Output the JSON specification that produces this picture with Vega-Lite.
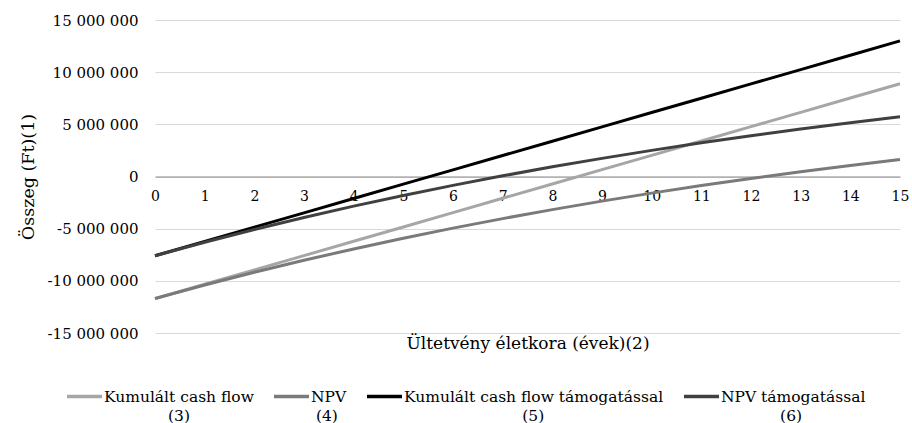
{
  "$schema": "https://vega.github.io/schema/vega-lite/v6.json",
  "width": 745,
  "height": 313,
  "autosize": "none",
  "padding": {"left": 155, "top": 20, "right": 12, "bottom": 90},
  "background": "white",
  "config": {
    "view": {"stroke": null},
    "font": "DejaVu Serif",
    "locale": {
      "number": {"decimal": ",", "thousands": " ", "grouping": [3], "currency": ["", " Ft"], "minus": "-"}
    }
  },
  "data": {
    "values": [
      {"ev": 0, "sorozat": "Kumulált cash flow", "osszeg": -11700000},
      {"ev": 1, "sorozat": "Kumulált cash flow", "osszeg": -10327000},
      {"ev": 2, "sorozat": "Kumulált cash flow", "osszeg": -8954000},
      {"ev": 3, "sorozat": "Kumulált cash flow", "osszeg": -7581000},
      {"ev": 4, "sorozat": "Kumulált cash flow", "osszeg": -6208000},
      {"ev": 5, "sorozat": "Kumulált cash flow", "osszeg": -4835000},
      {"ev": 6, "sorozat": "Kumulált cash flow", "osszeg": -3462000},
      {"ev": 7, "sorozat": "Kumulált cash flow", "osszeg": -2089000},
      {"ev": 8, "sorozat": "Kumulált cash flow", "osszeg": -716000},
      {"ev": 9, "sorozat": "Kumulált cash flow", "osszeg": 657000},
      {"ev": 10, "sorozat": "Kumulált cash flow", "osszeg": 2030000},
      {"ev": 11, "sorozat": "Kumulált cash flow", "osszeg": 3403000},
      {"ev": 12, "sorozat": "Kumulált cash flow", "osszeg": 4776000},
      {"ev": 13, "sorozat": "Kumulált cash flow", "osszeg": 6149000},
      {"ev": 14, "sorozat": "Kumulált cash flow", "osszeg": 7522000},
      {"ev": 15, "sorozat": "Kumulált cash flow", "osszeg": 8895000},
      {"ev": 0, "sorozat": "NPV", "osszeg": -11700000},
      {"ev": 1, "sorozat": "NPV", "osszeg": -10404700},
      {"ev": 2, "sorozat": "NPV", "osszeg": -9182700},
      {"ev": 3, "sorozat": "NPV", "osszeg": -8030000},
      {"ev": 4, "sorozat": "NPV", "osszeg": -6942400},
      {"ev": 5, "sorozat": "NPV", "osszeg": -5916400},
      {"ev": 6, "sorozat": "NPV", "osszeg": -4948500},
      {"ev": 7, "sorozat": "NPV", "osszeg": -4035400},
      {"ev": 8, "sorozat": "NPV", "osszeg": -3173900},
      {"ev": 9, "sorozat": "NPV", "osszeg": -2361300},
      {"ev": 10, "sorozat": "NPV", "osszeg": -1594600},
      {"ev": 11, "sorozat": "NPV", "osszeg": -871300},
      {"ev": 12, "sorozat": "NPV", "osszeg": -189000},
      {"ev": 13, "sorozat": "NPV", "osszeg": 454800},
      {"ev": 14, "sorozat": "NPV", "osszeg": 1062000},
      {"ev": 15, "sorozat": "NPV", "osszeg": 1634900},
      {"ev": 0, "sorozat": "Kumulált cash flow támogatással", "osszeg": -7600000},
      {"ev": 1, "sorozat": "Kumulált cash flow támogatással", "osszeg": -6227000},
      {"ev": 2, "sorozat": "Kumulált cash flow támogatással", "osszeg": -4854000},
      {"ev": 3, "sorozat": "Kumulált cash flow támogatással", "osszeg": -3481000},
      {"ev": 4, "sorozat": "Kumulált cash flow támogatással", "osszeg": -2108000},
      {"ev": 5, "sorozat": "Kumulált cash flow támogatással", "osszeg": -735000},
      {"ev": 6, "sorozat": "Kumulált cash flow támogatással", "osszeg": 638000},
      {"ev": 7, "sorozat": "Kumulált cash flow támogatással", "osszeg": 2011000},
      {"ev": 8, "sorozat": "Kumulált cash flow támogatással", "osszeg": 3384000},
      {"ev": 9, "sorozat": "Kumulált cash flow támogatással", "osszeg": 4757000},
      {"ev": 10, "sorozat": "Kumulált cash flow támogatással", "osszeg": 6130000},
      {"ev": 11, "sorozat": "Kumulált cash flow támogatással", "osszeg": 7503000},
      {"ev": 12, "sorozat": "Kumulált cash flow támogatással", "osszeg": 8876000},
      {"ev": 13, "sorozat": "Kumulált cash flow támogatással", "osszeg": 10249000},
      {"ev": 14, "sorozat": "Kumulált cash flow támogatással", "osszeg": 11622000},
      {"ev": 15, "sorozat": "Kumulált cash flow támogatással", "osszeg": 12995000},
      {"ev": 0, "sorozat": "NPV támogatással", "osszeg": -7600000},
      {"ev": 1, "sorozat": "NPV támogatással", "osszeg": -6304700},
      {"ev": 2, "sorozat": "NPV támogatással", "osszeg": -5082700},
      {"ev": 3, "sorozat": "NPV támogatással", "osszeg": -3930000},
      {"ev": 4, "sorozat": "NPV támogatással", "osszeg": -2842400},
      {"ev": 5, "sorozat": "NPV támogatással", "osszeg": -1816400},
      {"ev": 6, "sorozat": "NPV támogatással", "osszeg": -848500},
      {"ev": 7, "sorozat": "NPV támogatással", "osszeg": 64600},
      {"ev": 8, "sorozat": "NPV támogatással", "osszeg": 926100},
      {"ev": 9, "sorozat": "NPV támogatással", "osszeg": 1738700},
      {"ev": 10, "sorozat": "NPV támogatással", "osszeg": 2505400},
      {"ev": 11, "sorozat": "NPV támogatással", "osszeg": 3228700},
      {"ev": 12, "sorozat": "NPV támogatással", "osszeg": 3911000},
      {"ev": 13, "sorozat": "NPV támogatással", "osszeg": 4554800},
      {"ev": 14, "sorozat": "NPV támogatással", "osszeg": 5162000},
      {"ev": 15, "sorozat": "NPV támogatással", "osszeg": 5734900}
    ]
  },
  "mark": {"type": "line", "strokeWidth": 3, "interpolate": "linear"},
  "encoding": {
    "x": {
      "field": "ev",
      "type": "quantitative",
      "scale": {"domain": [0, 15], "nice": false, "zero": false},
      "axis": {
        "title": "Ültetvény életkora (évek)(2)",
        "values": [0, 1, 2, 3, 4, 5, 6, 7, 8, 9, 10, 11, 12, 13, 14, 15],
        "format": "d",
        "offset": -156.5,
        "grid": false,
        "ticks": false,
        "domain": true,
        "domainColor": "#8c8c8c",
        "domainWidth": 1.2,
        "labelFont": "DejaVu Serif",
        "labelFontSize": 14,
        "labelColor": "#000000",
        "labelPadding": 13,
        "labelFlush": false,
        "labelOverlap": false,
        "titleFont": "DejaVu Serif",
        "titleFontSize": 17,
        "titleFontWeight": "normal",
        "titleColor": "#000000",
        "titleY": 167,
        "titleBaseline": "middle"
      }
    },
    "y": {
      "field": "osszeg",
      "type": "quantitative",
      "scale": {"domain": [-15000000, 15000000], "nice": false},
      "axis": {
        "title": "Összeg (Ft)(1)",
        "values": [-15000000, -10000000, -5000000, 0, 5000000, 10000000, 15000000],
        "format": ",d",
        "grid": true,
        "gridColor": "#d9d9d9",
        "gridWidth": 1.2,
        "domain": false,
        "ticks": false,
        "labelFont": "DejaVu Serif",
        "labelFontSize": 15,
        "labelColor": "#000000",
        "labelPadding": 17,
        "titleFont": "DejaVu Serif",
        "titleFontSize": 17.5,
        "titleFontWeight": "normal",
        "titleColor": "#000000",
        "titlePadding": 10
      }
    },
    "color": {
      "field": "sorozat",
      "type": "nominal",
      "scale": {
        "domain": ["Kumulált cash flow", "NPV", "Kumulált cash flow támogatással", "NPV támogatással"],
        "range": ["#a6a6a6", "#7a7a7a", "#000000", "#404040"]
      },
      "legend": {
        "title": null,
        "orient": "none",
        "legendX": -90,
        "legendY": 357,
        "direction": "horizontal",
        "columns": 4,
        "columnPadding": 13,
        "symbolType": "stroke",
        "symbolSize": 1225,
        "symbolStrokeWidth": 3.5,
        "labelOffset": 0,
        "labelFont": "DejaVu Serif",
        "labelFontSize": 15.5,
        "labelColor": "#000000",
        "labelLimit": 400,
        "labelBaseline": "middle",
        "labelExpr": "datum.label == 'Kumulált cash flow' ? ['Kumulált cash flow', '\u200b\u00a0\u00a0\u00a0\u00a0\u00a0\u00a0\u00a0\u00a0\u00a0\u00a0\u00a0\u00a0\u00a0(3)'] : datum.label == 'NPV' ? ['NPV', '\u200b\u00a0(4)'] : datum.label == 'Kumulált cash flow támogatással' ? ['Kumulált cash flow támogatással', '\u200b\u00a0\u00a0\u00a0\u00a0\u00a0\u00a0\u00a0\u00a0\u00a0\u00a0\u00a0\u00a0\u00a0\u00a0\u00a0\u00a0\u00a0\u00a0\u00a0\u00a0\u00a0\u00a0\u00a0\u00a0(5)'] : ['NPV támogatással', '\u200b\u00a0\u00a0\u00a0\u00a0\u00a0\u00a0\u00a0\u00a0\u00a0\u00a0\u00a0\u00a0(6)']",
        "encode": {
          "labels": {"update": {"lineHeight": {"value": 19}}}
        }
      }
    }
  }
}
